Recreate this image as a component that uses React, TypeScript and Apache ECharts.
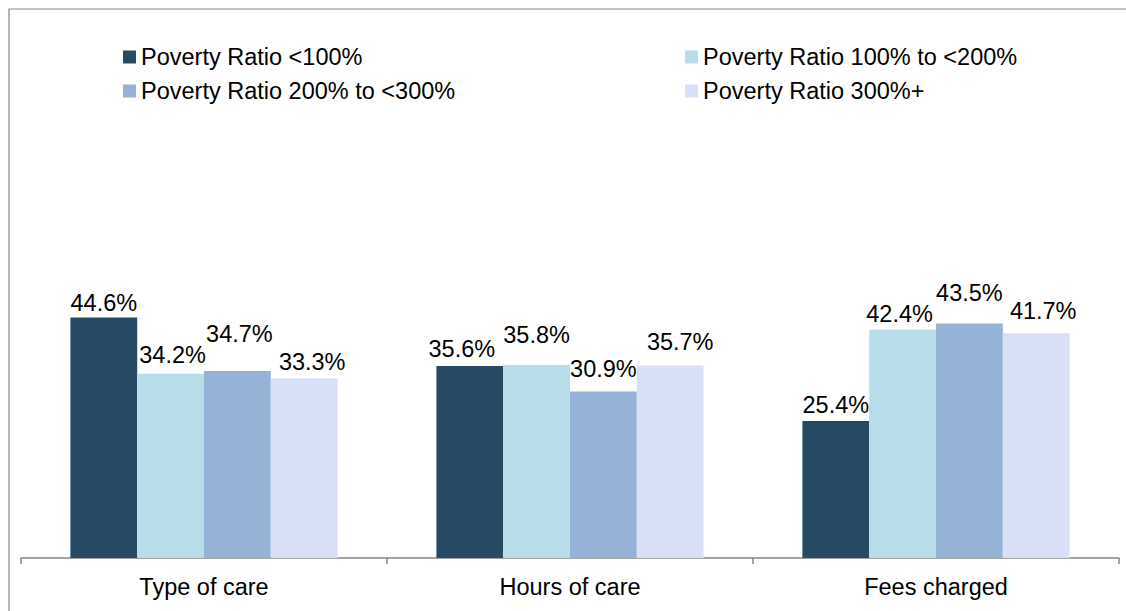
import React, { useEffect, useRef } from "react";
import * as echarts from "echarts";

const categories = ["Type of care", "Hours of care", "Fees charged"];
const seriesNames = [
  "Poverty Ratio <100%",
  "Poverty Ratio 100% to <200%",
  "Poverty Ratio 200% to <300%",
  "Poverty Ratio 300%+",
];
const below100 = [44.6, 35.6, 25.4];
const from100to200 = [34.2, 35.8, 42.4];
const from200to300 = [34.7, 30.9, 43.5];
const over300 = [33.3, 35.7, 41.7];
const seriesValues = [below100, from100to200, from200to300, over300];
const colors = ["#264A64", "#B7DEE8", "#95B3D7", "#D7E0F7"];

// label nudges (pixels) to mimic the original's label placement
const labelDx = [
  [0, -8, 0],
  [2, 0, -3],
  [2, 0, 0],
  [8, 10, 7],
];
const labelRise = [
  [8, 10, 9],
  [12, 23, 8],
  [30, 15, 24],
  [10, 17, 15],
];

const FONT = "'Liberation Sans', Arial, sans-serif";
const FS = 23.5;

export default function App() {
  const ref = useRef<HTMLDivElement>(null);
  useEffect(() => {
    if (!ref.current) return;
    const chart = echarts.init(ref.current, null, { renderer: "svg" });
    const series = seriesNames.map((name, si) => ({
      name,
      type: "bar",
      barGap: "0%",
      barCategoryGap: "27%",
      itemStyle: { color: colors[si] },
      data: seriesValues[si].map((v, ci) => ({
        value: v,
        label: { offset: [labelDx[si][ci], -(labelRise[si][ci] - 8)] },
      })),
      label: {
        show: true,
        position: "top",
        distance: 3,
        color: "#000",
        fontFamily: FONT,
        fontSize: FS,
        formatter: (p: any) => `${Number(p.value).toFixed(1)}%`,
      },
    }));
    const legendCommon = {
      orient: "vertical",
      top: 40,
      itemWidth: 13,
      itemHeight: 13,
      itemGap: 10,
      icon: "rect",
      selectedMode: false,
      textStyle: { fontFamily: FONT, fontSize: FS, color: "#000", lineHeight: 23, padding: [0, 0, 0, 0] },
    };
    chart.setOption({
      animation: false,
      backgroundColor: "#fff",
      legend: [
        { ...legendCommon, left: 118, data: [seriesNames[0], seriesNames[2]] },
        { ...legendCommon, left: 680, data: [seriesNames[1], seriesNames[3]] },
      ],
      grid: { left: 21, right: 7, top: 19, bottom: 53, containLabel: false },
      xAxis: {
        type: "category",
        data: categories,
        axisLine: { lineStyle: { color: "#868686", width: 1.5 } },
        axisTick: { show: true, length: 6, lineStyle: { color: "#868686", width: 1.5 } },
        axisLabel: { color: "#000", fontFamily: FONT, fontSize: FS, margin: 17 },
      },
      yAxis: {
        type: "value",
        min: 0,
        max: 100,
        show: false,
        splitLine: { show: false },
      },
      graphic: [
        {
          type: "rect",
          shape: { x: 9, y: 9, width: 1130, height: 620 },
          style: { fill: "none", stroke: "#888", lineWidth: 1.2 },
          z: 10,
          silent: true,
        },
      ],
      series,
    });
    return () => chart.dispose();
  }, []);
  return (
    <div
      ref={ref}
      style={{ position: "fixed", left: 0, top: 0, width: 1126, height: 611 }}
    />
  );
}
